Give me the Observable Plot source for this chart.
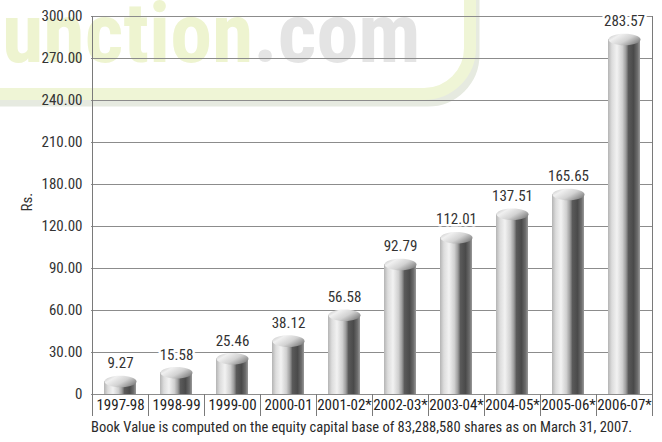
<!DOCTYPE html>
<html><head><meta charset="utf-8">
<script src="https://cdn.jsdelivr.net/npm/d3@7"></script>
<script src="https://cdn.jsdelivr.net/npm/@observablehq/plot@0.6"></script>
<style>
body{margin:0;background:#fff;font-family:"Liberation Sans Narrow","Roboto Condensed","Liberation Sans",sans-serif;}
#wrap{position:relative;width:662px;height:442px;overflow:hidden;}
#wm{position:absolute;left:0;top:0;}
#wm text{font-family:"Roboto Condensed","Liberation Sans Narrow","Liberation Sans",sans-serif;}
#chart{position:absolute;left:0;top:0;}
#cap{position:absolute;left:91px;top:419px;font-size:14.5px;color:#2a2a2a;white-space:nowrap;}
</style></head>
<body><div id="wrap">
<svg id="wm" width="662" height="130">
  <rect x="-60" y="-56" width="534" height="157" rx="46" fill="none" stroke="#e6eae0" stroke-width="11"/>
  <rect x="-60" y="-62" width="530" height="156" rx="46" fill="none" stroke="#eff5d6" stroke-width="12"/>
  <text x="2" y="62" font-weight="bold" font-size="84" fill="#eef4d0">unction<tspan fill="#e4e4e4">.com</tspan></text>
</svg>
<div id="chart"></div>
<div id="cap">Book Value is computed on the equity capital base of 83,288,580 shares as on March 31, 2007.</div>
</div>
<script>
const years = ["1997-98","1998-99","1999-00","2000-01","2001-02*","2002-03*","2003-04*","2004-05*","2005-06*","2006-07*"];
const bookValue = [9.27,15.58,25.46,38.12,56.58,92.79,112.01,137.51,165.65,283.57];
const yTickValues = [0,30,60,90,120,180,210,240,270,300];
const yLabel = "Rs.";

const data = years.map((year, i) => ({year, value: bookValue[i]}));

const W = 662, H = 420, mt = 16, mb = 26, ml = 91, mr = 10;
const step = (H - mb - mt) / (yTickValues.length - 1);
const yRange = yTickValues.map((_, i) => (H - mb) - i * step);

const ellipse = {
  draw(ctx, size) {
    const rx = Math.sqrt(size / Math.PI), ry = rx * 0.36, k = 0.5523;
    ctx.moveTo(-rx, 0);
    ctx.bezierCurveTo(-rx, -ry * k, -rx * k, -ry, 0, -ry);
    ctx.bezierCurveTo(rx * k, -ry, rx, -ry * k, rx, 0);
    ctx.bezierCurveTo(rx, ry * k, rx * k, ry, 0, ry);
    ctx.bezierCurveTo(-rx * k, ry, -rx, ry * k, -rx, 0);
    ctx.closePath();
  }
};

function defs() {
  const d = d3.create("svg:defs");
  const g = d.append("linearGradient").attr("id", "cyl").attr("x1", 0).attr("x2", 1).attr("y1", 0).attr("y2", 0);
  [[0,"#b4b4b4"],[0.12,"#dcdcdc"],[0.28,"#f2f2f2"],[0.45,"#d0d0d0"],[0.56,"#9c9c9c"],[0.64,"#5a5a5a"],[0.8,"#4a4a4a"],[0.92,"#6c6c6c"],[1,"#9a9a9a"]]
    .forEach(([o, c]) => g.append("stop").attr("offset", o).attr("stop-color", c));
  const c = d.append("linearGradient").attr("id", "cap").attr("x1", 0).attr("x2", 1).attr("y1", 0).attr("y2", 0.6);
  [[0,"#bcbcbc"],[0.3,"#f0f0f0"],[0.65,"#d2d2d2"],[1,"#8a8a8a"]]
    .forEach(([o, col]) => c.append("stop").attr("offset", o).attr("stop-color", col));
  return d.node();
}

function boxLines(index, scales, values, dims) {
  const x = scales.x;
  const g = d3.create("svg:g").attr("stroke", "#7a7a7a").attr("stroke-width", 1);
  const y0 = dims.height - dims.marginBottom, y1 = y0 + 22;
  const bw = x.bandwidth ? x.bandwidth() : (dims.width - dims.marginLeft - dims.marginRight) / years.length;
  const xs = years.map(c => x(c)).concat([x(years[years.length - 1]) + bw]);
  xs.forEach((px, i) => {
    const top = (i === 0 || i === xs.length - 1) ? dims.marginTop : y0;
    g.append("line").attr("x1", px + 0.5).attr("x2", px + 0.5).attr("y1", top).attr("y2", y1);
  });
  return g.node();
}

const plot = Plot.plot({
  width: W, height: H,
  marginTop: mt, marginBottom: mb, marginLeft: ml, marginRight: mr,
  style: {background: "transparent", fontFamily: "'Liberation Sans Narrow','Roboto Condensed','Liberation Sans',sans-serif", fontSize: "15px", color: "#333"},
  x: {type: "band", domain: years, padding: 0, label: null},
  y: {type: "linear", domain: yTickValues, range: yRange, label: null},
  marks: [
    defs,
    Plot.gridY(yTickValues, {stroke: "#8c8c8c", strokeOpacity: 1}),
    Plot.axisY(yTickValues, {tickSize: 0, tickPadding: 9, tickFormat: d => d === 0 ? "0" : d.toFixed(2), fill: "#333", fontSize: 15, label: null}),
    Plot.axisX({tickSize: 0, tickPadding: 5, fill: "#222", fontSize: 15, label: null}),
    boxLines,
    Plot.barY(data, {x: "year", y: "value", fill: "url(#cyl)", insetLeft: 12, insetRight: 12}),
    Plot.dot(data, {x: "year", y: "value", r: 16, symbol: ellipse, fill: "url(#cap)", stroke: "none"}),
    Plot.text(data, {x: "year", y: "value", text: d => d.value.toFixed(2), dy: -18, fill: "#333", stroke: "white", strokeWidth: 5, fontSize: 15}),
    Plot.text([yLabel], {frameAnchor: "left", dx: -64, dy: 6, rotate: -90, fill: "#333", fontSize: 15})
  ]
});
document.getElementById("chart").appendChild(plot);
</script>
</body></html>
